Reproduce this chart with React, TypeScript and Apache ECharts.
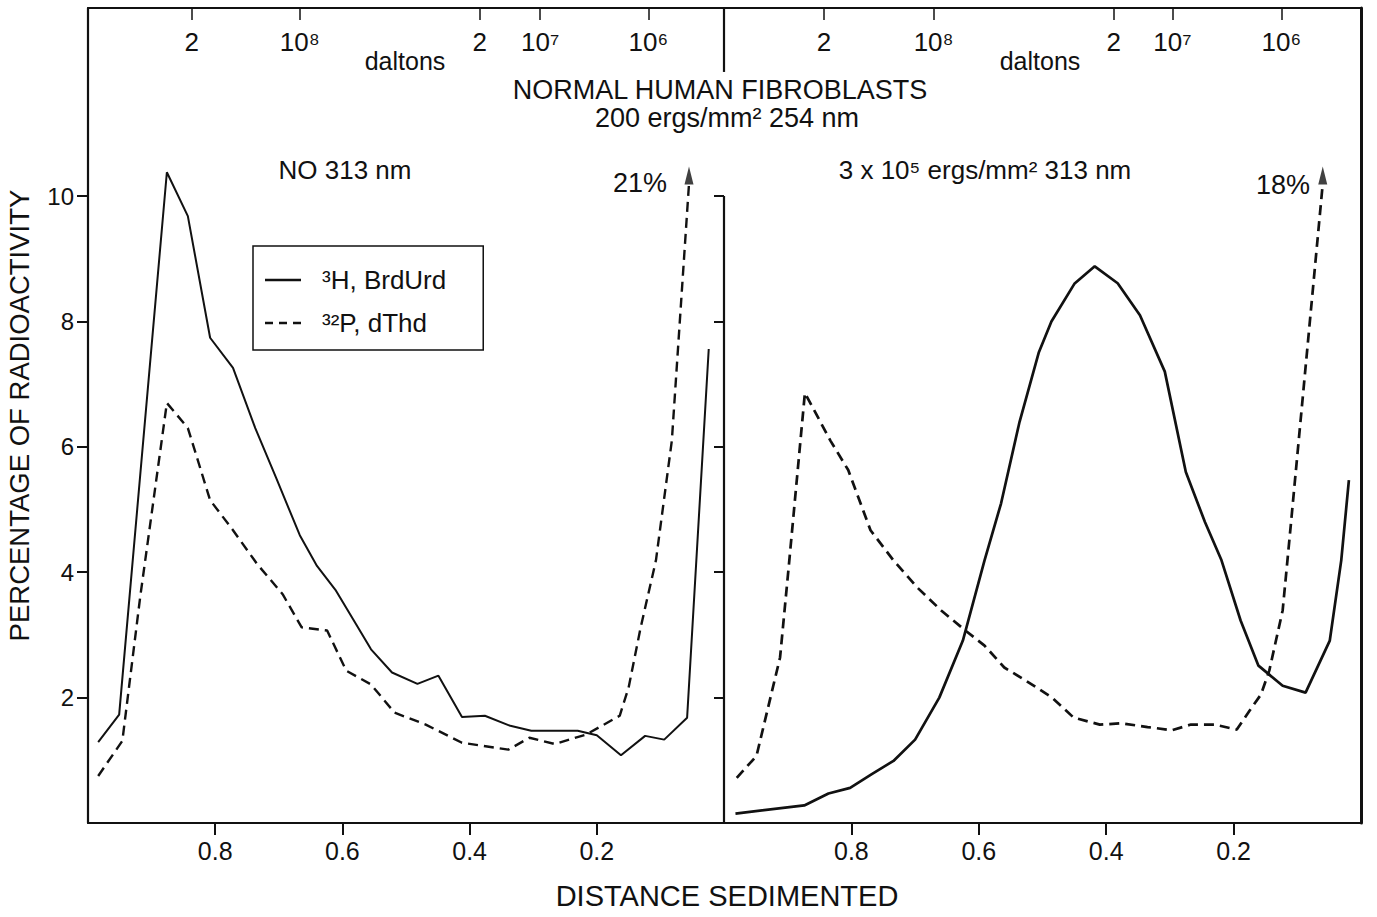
import React, { useEffect, useRef } from "react";
import * as echarts from "echarts";

// ---- data (distance sedimented, % radioactivity) ----
const xTicks = [0.2, 0.4, 0.6, 0.8];
const yTicks = [2, 4, 6, 8, 10];
const daltonLabels = ["2", "10⁸", "2", "10⁷", "10⁶"];
const daltonPosLeft = [0.837, 0.667, 0.384, 0.289, 0.119];
const daltonPosRight = [0.843, 0.671, 0.388, 0.296, 0.125];

const nameH = "³H, BrdUrd";
const nameP = "³²P, dThd";

const leftH = [
  [0.984, 1.29], [0.951, 1.73], [0.876, 10.38], [0.843, 9.68], [0.808, 7.74],
  [0.772, 7.26], [0.737, 6.3], [0.704, 5.5], [0.667, 4.59], [0.64, 4.1],
  [0.611, 3.72], [0.582, 3.23], [0.555, 2.77], [0.522, 2.4], [0.482, 2.22],
  [0.449, 2.35], [0.412, 1.69], [0.376, 1.71], [0.336, 1.55], [0.303, 1.47],
  [0.23, 1.47], [0.2, 1.4], [0.162, 1.08], [0.124, 1.39], [0.094, 1.33],
  [0.058, 1.68], [0.024, 7.56],
];
const leftP = [
  [0.984, 0.75], [0.946, 1.31], [0.918, 3.6], [0.876, 6.7], [0.843, 6.3],
  [0.808, 5.15], [0.772, 4.67], [0.734, 4.13], [0.694, 3.65], [0.664, 3.12],
  [0.624, 3.07], [0.594, 2.43], [0.555, 2.21], [0.518, 1.76], [0.469, 1.57],
  [0.412, 1.28], [0.339, 1.17], [0.306, 1.36], [0.266, 1.26], [0.217, 1.41],
  [0.164, 1.71], [0.15, 2.16], [0.131, 3.12], [0.107, 4.19], [0.082, 6.1],
  [0.055, 10.2],
];
const rightH = [
  [0.982, 0.15], [0.874, 0.28], [0.836, 0.47], [0.802, 0.56], [0.768, 0.78],
  [0.734, 0.99], [0.7, 1.33], [0.662, 2.0], [0.625, 2.91], [0.591, 4.19],
  [0.565, 5.1], [0.536, 6.4], [0.506, 7.5], [0.486, 8.0], [0.45, 8.6],
  [0.418, 8.88], [0.382, 8.61], [0.347, 8.1], [0.308, 7.2], [0.275, 5.6],
  [0.245, 4.8], [0.219, 4.19], [0.189, 3.23], [0.161, 2.51], [0.123, 2.19],
  [0.087, 2.08], [0.049, 2.91], [0.031, 4.19], [0.019, 5.47],
];
const rightP = [
  [0.98, 0.72], [0.949, 1.07], [0.912, 2.64], [0.898, 4.13], [0.873, 6.86],
  [0.833, 6.1], [0.805, 5.63], [0.77, 4.67], [0.734, 4.19], [0.697, 3.76],
  [0.659, 3.39], [0.621, 3.07], [0.591, 2.83], [0.56, 2.48], [0.526, 2.27],
  [0.485, 2.0], [0.451, 1.68], [0.41, 1.57], [0.376, 1.59], [0.335, 1.53],
  [0.297, 1.48], [0.267, 1.57], [0.23, 1.57], [0.195, 1.49], [0.175, 1.79],
  [0.157, 2.05], [0.144, 2.43], [0.123, 3.39], [0.112, 4.56], [0.06, 10.2],
];
// middle divider segments (x = 1.0 of right panel), in y units
const dividerSegments = [
  [0, 10],
  [11.98, 13],
];

const FONT = "Liberation Sans";
const INK = "#111";

function daltonFormatter(pos: number[]) {
  return (v: number) => {
    const i = pos.findIndex((p) => Math.abs(p - v) < 1e-6);
    return i >= 0 ? daltonLabels[i] : "";
  };
}

function bottomAxis(grid: number) {
  return {
    type: "value",
    gridIndex: grid,
    position: "bottom",
    min: 0,
    max: 1,
    inverse: true,
    axisLine: { show: true, onZero: false, lineStyle: { color: INK, width: 2.2 } },
    axisTick: { show: true, customValues: xTicks, length: 12, lineStyle: { color: INK, width: 2 } },
    axisLabel: {
      customValues: xTicks,
      formatter: (v: number) => v.toFixed(1),
      fontSize: 25,
      fontFamily: FONT,
      color: INK,
      margin: 15,
    },
    splitLine: { show: false },
  };
}

function topAxis(grid: number, pos: number[]) {
  return {
    type: "value",
    gridIndex: grid,
    position: "top",
    min: 0,
    max: 1,
    inverse: true,
    axisLine: { show: true, onZero: false, lineStyle: { color: INK, width: 2 } },
    axisTick: { show: true, inside: true, customValues: pos, length: 12, lineStyle: { color: INK, width: 1.5 } },
    axisLabel: {
      inside: true,
      customValues: pos,
      formatter: daltonFormatter(pos),
      fontSize: 26,
      fontFamily: FONT,
      color: INK,
      margin: 21,
    },
    splitLine: { show: false },
  };
}

const solidIcon = "path://M0,0h36v2.4h-36z";
const dashIcon = "path://M0,0h8v2.4h-8z M14,0h8v2.4h-8z M28,0h8v2.4h-8z";

export default function App() {
  const ref = useRef<HTMLDivElement>(null);

  useEffect(() => {
    if (!ref.current) return;
    const chart = echarts.init(ref.current, undefined, { renderer: "svg" });

    const txt = (text: string, x: number, y: number, size = 26) => ({
      type: "text",
      x,
      y,
      style: {
        text,
        fontSize: size,
        fontFamily: FONT,
        fill: INK,
        align: "center",
        verticalAlign: "middle",
        textAlign: "center",
        textVerticalAlign: "middle",
      },
    });

    const option: any = {
      animation: false,
      backgroundColor: "#fff",
      grid: [
        { left: 88, top: 8, width: 636, height: 815, outerBoundsMode: "none" },
        { left: 724, top: 8, width: 637, height: 815, outerBoundsMode: "none" },
      ],
      xAxis: [bottomAxis(0), topAxis(0, daltonPosLeft), bottomAxis(1), topAxis(1, daltonPosRight)],
      yAxis: [
        {
          type: "value",
          gridIndex: 0,
          position: "left",
          min: 0,
          max: 13,
          name: "PERCENTAGE OF RADIOACTIVITY",
          nameLocation: "middle",
          nameRotate: 90,
          nameGap: 55,
          nameTextStyle: { fontSize: 27.5, fontFamily: FONT, color: INK },
          axisLine: { show: true, onZero: false, lineStyle: { color: INK, width: 2.2 } },
          axisTick: { show: true, customValues: yTicks, length: 11, lineStyle: { color: INK, width: 2 } },
          axisLabel: { customValues: yTicks, fontSize: 24, fontFamily: FONT, color: INK, margin: 14 },
          splitLine: { show: false },
        },
        {
          type: "value",
          gridIndex: 0,
          position: "right",
          min: 0,
          max: 13,
          axisLine: { show: false, onZero: false },
          axisTick: { show: true, inside: true, customValues: yTicks, length: 10, lineStyle: { color: INK, width: 2 } },
          axisLabel: { show: false },
          splitLine: { show: false },
        },
        {
          type: "value",
          gridIndex: 1,
          position: "left",
          min: 0,
          max: 13,
          axisLine: { show: false, onZero: false },
          axisTick: { show: false },
          axisLabel: { show: false },
          splitLine: { show: false },
        },
        {
          type: "value",
          gridIndex: 1,
          position: "right",
          min: 0,
          max: 13,
          axisLine: { show: true, onZero: false, lineStyle: { color: INK, width: 3 } },
          axisTick: { show: false },
          axisLabel: { show: false },
          splitLine: { show: false },
        },
      ],
      legend: {
        data: [
          { name: nameH, icon: solidIcon },
          { name: nameP, icon: dashIcon },
        ],
        orient: "vertical",
        left: 253,
        top: 246,
        itemWidth: 36,
        itemHeight: 2.4,
        itemGap: 13,
        padding: [19, 37, 12, 12],
        borderColor: INK,
        borderWidth: 1.5,
        backgroundColor: "#fff",
        itemStyle: { color: INK, borderWidth: 0 },
        textStyle: { fontSize: 26, fontFamily: FONT, color: INK, lineHeight: 30, padding: [0, 0, 0, 16] },
      },
      series: [
        {
          name: nameH,
          type: "line",
          xAxisIndex: 0,
          yAxisIndex: 0,
          data: leftH,
          symbol: "none",
          lineStyle: { color: INK, width: 2, type: "solid" },
          itemStyle: { color: INK },
        },
        {
          name: nameP,
          type: "line",
          xAxisIndex: 0,
          yAxisIndex: 0,
          data: leftP,
          symbol: "none",
          lineStyle: { color: INK, width: 2.4, type: [10, 6] },
          itemStyle: { color: INK },
        },
        {
          name: "arrowL",
          type: "scatter",
          xAxisIndex: 0,
          yAxisIndex: 0,
          data: [leftP[leftP.length - 1]],
          symbol: "triangle",
          symbolSize: [9, 18],
          symbolOffset: [0, -8],
          itemStyle: { color: INK },
          silent: true,
        },
        {
          name: nameH,
          type: "line",
          xAxisIndex: 2,
          yAxisIndex: 2,
          data: rightH,
          symbol: "none",
          lineStyle: { color: INK, width: 2.7, type: "solid" },
          itemStyle: { color: INK },
          markLine: {
            silent: true,
            symbol: ["none", "none"],
            label: { show: false },
            lineStyle: { color: INK, width: 2.2, type: "solid" },
            data: dividerSegments.map((s) => [{ coord: [1, s[0]] }, { coord: [1, s[1]] }]),
          },
        },
        {
          name: nameP,
          type: "line",
          xAxisIndex: 2,
          yAxisIndex: 2,
          data: rightP,
          symbol: "none",
          lineStyle: { color: INK, width: 2.7, type: [10, 6] },
          itemStyle: { color: INK },
        },
        {
          name: "arrowR",
          type: "scatter",
          xAxisIndex: 2,
          yAxisIndex: 2,
          data: [rightP[rightP.length - 1]],
          symbol: "triangle",
          symbolSize: [9, 18],
          symbolOffset: [0, -8],
          itemStyle: { color: INK },
          silent: true,
        },
      ],
      graphic: {
        elements: [
          txt("daltons", 405, 61, 25),
          txt("daltons", 1040, 61, 25),
          txt("NORMAL HUMAN FIBROBLASTS", 720, 90, 27),
          txt("200 ergs/mm² 254 nm", 727, 118, 27),
          txt("NO 313 nm", 345, 170, 26),
          txt("21%", 640, 183, 27),
          txt("3 x 10⁵ ergs/mm² 313 nm", 985, 170, 26),
          txt("18%", 1283, 185, 27),
          txt("DISTANCE SEDIMENTED", 727, 896, 29),
        ],
      },
    };

    chart.setOption(option);
    return () => chart.dispose();
  }, []);

  return (
    <div
      ref={ref}
      style={{ position: "fixed", left: 0, top: 0, width: 1377, height: 917, background: "#fff" }}
    />
  );
}
